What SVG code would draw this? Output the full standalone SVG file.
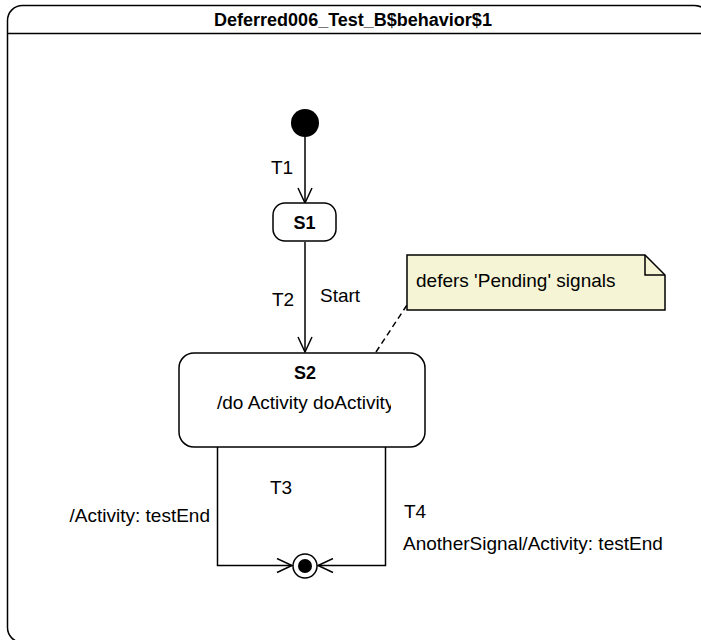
<svg xmlns="http://www.w3.org/2000/svg" width="701" height="640" viewBox="0 0 701 640">
<defs>
<style>
text{font-family:"Liberation Sans",Arial,sans-serif;font-size:19px;fill:#000}
.b{font-weight:bold;font-size:18px}
.ln{fill:none;stroke:#000;stroke-width:1.5}
.st{fill:#fff;stroke:#000;stroke-width:1.5}
</style>
<marker id="open" markerWidth="18" markerHeight="16" refX="16" refY="8" orient="auto" markerUnits="userSpaceOnUse">
<path d="M1,1 L16,8 L1,15" fill="none" stroke="#000" stroke-width="1.5"/>
</marker>
<clipPath id="s2clip"><rect x="181" y="355" width="210" height="90"/></clipPath>
</defs>
<rect width="701" height="640" fill="#fff"/>
<g id="frame">
<rect x="7.5" y="5.5" width="702" height="637" rx="15" fill="#fff" stroke="#000" stroke-width="1.5"/>
<line x1="7.5" y1="33.5" x2="701" y2="33.5" stroke="#000" stroke-width="1.5"/>
<text x="353" y="25.5" text-anchor="middle" class="b">Deferred006_Test_B$behavior$1</text>
</g>
<g id="connectors">
<line class="ln" x1="305" y1="137" x2="305" y2="203" marker-end="url(#open)"/>
<line class="ln" x1="305" y1="242" x2="305" y2="352" marker-end="url(#open)"/>
<polyline class="ln" points="217.5,447 217.5,565.5 292,565.5" marker-end="url(#open)"/>
<polyline class="ln" points="385.5,447 385.5,565.5 318,565.5" marker-end="url(#open)"/>
<line x1="376" y1="352" x2="407" y2="305" stroke="#000" stroke-width="1.5" stroke-dasharray="6,4"/>
<text x="271" y="174">T1</text>
<text x="272" y="306">T2</text>
<text x="320" y="302">Start</text>
<text x="270" y="494">T3</text>
<text x="210" y="522" text-anchor="end">/Activity: testEnd</text>
<text x="404" y="518">T4</text>
<text x="403" y="550">AnotherSignal/Activity: testEnd</text>
</g>
<g id="initial">
<circle cx="305" cy="123" r="14" fill="#000"/>
</g>
<g id="S1">
<rect class="st" x="273" y="203" width="63" height="38" rx="12"/>
<text x="304.5" y="228.5" text-anchor="middle" class="b">S1</text>
</g>
<g id="S2">
<rect class="st" x="179" y="353" width="246" height="94" rx="15"/>
<text x="305" y="379" text-anchor="middle" class="b">S2</text>
<text x="217" y="409" clip-path="url(#s2clip)">/do Activity doActivity</text>
</g>
<g id="final">
<circle cx="305" cy="566" r="12" fill="#fff" stroke="#000" stroke-width="1.5"/>
<circle cx="305" cy="566" r="7" fill="#000"/>
</g>
<g id="note">
<path d="M407,255 H645 L665,275 V310 H407 Z" fill="#f5f5d5" stroke="#000" stroke-width="1.5"/>
<path d="M645,255 V275 H665" fill="none" stroke="#000" stroke-width="1.5"/>
<text x="416" y="287">defers 'Pending' signals</text>
</g>
</svg>
